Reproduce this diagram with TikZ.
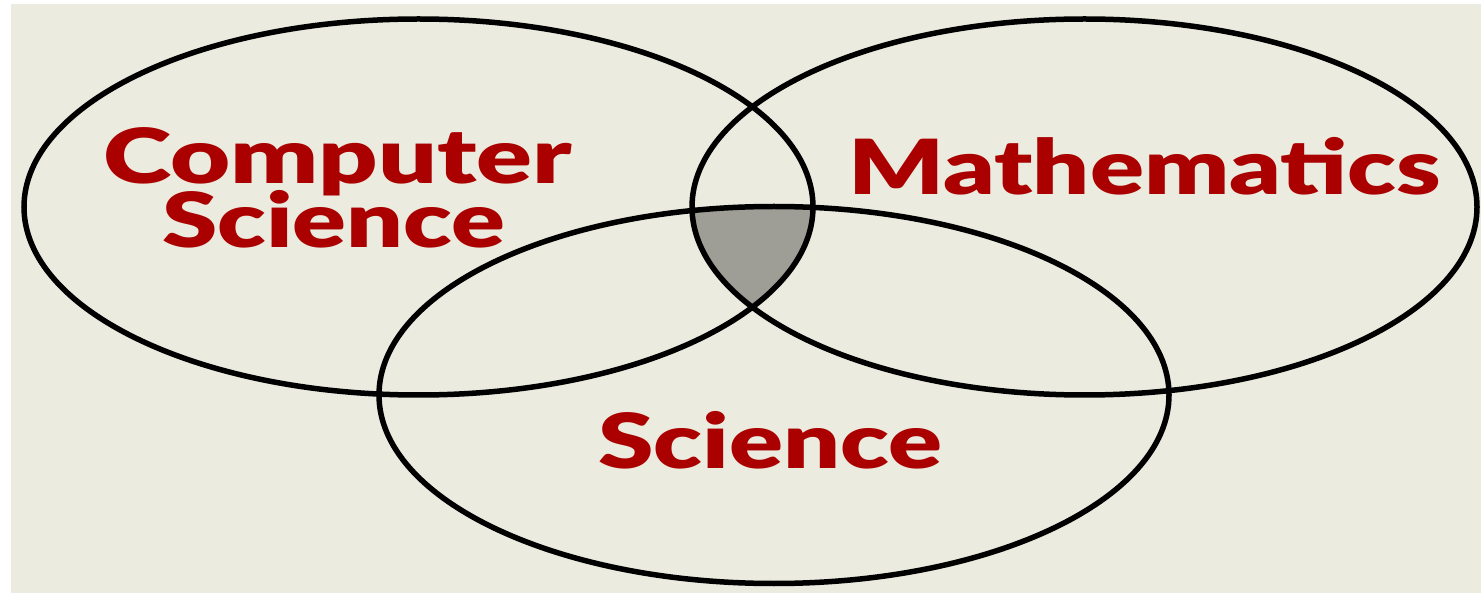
\documentclass[tikz,border=0pt]{standalone}
\usepackage{fontspec}
\setmainfont{Lato}
\newfontfamily\labfont{Lato Black}
\usepackage{graphicx}
\definecolor{bgbeige}{RGB}{235,235,223}
\definecolor{labred}{RGB}{170,0,0}
\definecolor{coregray}{RGB}{158,158,150}
\newcommand{\fitw}[2]{\resizebox{#1}{\height}{#2}}
\tikzset{
  ring/.style={draw=black, line width=5.5pt},
  lab/.style={text=labred, inner sep=0pt, anchor=base, font=\fontsize{76}{80}\selectfont\labfont},
}
\begin{document}
\begin{tikzpicture}[x=1pt,y=-1pt]
\useasboundingbox (0,0) rectangle (1481,593);
\fill[white] (0,0) rectangle (1481,593);
\fill[bgbeige] (11,4) rectangle (1481,593);
\coordinate (cs) at (418.5,207);
\coordinate (ma) at (1084.5,207);
\coordinate (sc) at (774,395);
\begin{scope}
  \clip (cs) ellipse [x radius=394.5pt, y radius=188pt];
  \clip (ma) ellipse [x radius=392.5pt, y radius=188pt];
  \fill[coregray] (sc) ellipse [x radius=395pt, y radius=188.5pt];
\end{scope}
\draw[ring] (cs) ellipse [x radius=394.5pt, y radius=188pt];
\draw[ring] (ma) ellipse [x radius=392.5pt, y radius=188pt];
\draw[ring] (sc) ellipse [x radius=395pt, y radius=188.5pt];
\node[lab] (cs1) at (337.5,184) {\fitw{469pt}{Computer}};
\node[lab] (cs2) at (333.5,248) {\fitw{343pt}{Science}};
\node[lab] (ma1) at (1144.5,195) {\fitw{593pt}{Mathematics}};
\node[lab] (sc1) at (770,468) {\fitw{344pt}{Science}};
\end{tikzpicture}
\end{document}
